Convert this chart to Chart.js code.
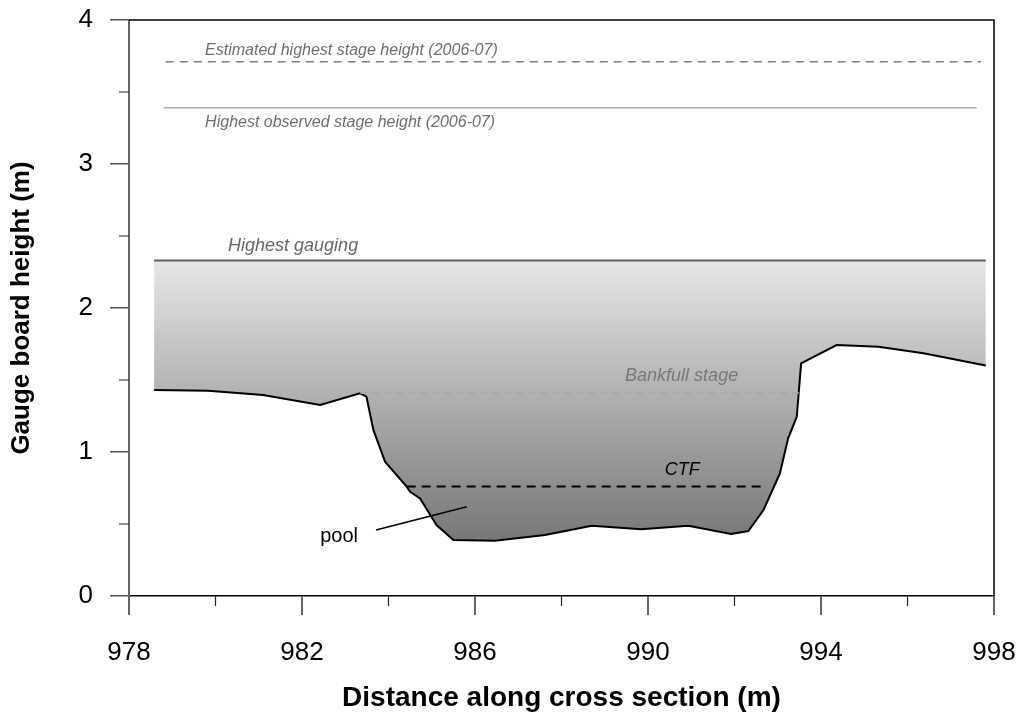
<!DOCTYPE html>
<html>
<head>
<meta charset="utf-8">
<script src="https://cdn.jsdelivr.net/npm/chart.js@4"></script>
<style>
  body { margin: 0; background: #fff; }
  #wrap { width: 1019px; height: 715px; }
</style>
</head>
<body>
<div id="wrap"><canvas id="chart"></canvas></div>
<script>
// cross-section profile (distance m, gauge height m)
const groundX = [978.58, 979.83, 981.1, 982.42, 983.34, 983.49, 983.65, 983.92, 984.42, 984.5, 984.73, 985.11, 985.5, 986.46, 987.62, 988.7, 989.84, 990.93, 991.92, 992.32, 992.67, 993.05, 993.24, 993.44, 993.54, 994.36, 995.33, 996.37, 997.81];
const groundY = [1.43, 1.426, 1.396, 1.326, 1.408, 1.384, 1.153, 0.933, 0.759, 0.724, 0.678, 0.493, 0.389, 0.384, 0.424, 0.488, 0.463, 0.488, 0.431, 0.451, 0.597, 0.852, 1.095, 1.245, 1.616, 1.743, 1.731, 1.685, 1.60];

// reference levels
const estimatedHighest = 3.71;
const estimatedX = [978.85, 997.7];
const observedHighest = 3.39;
const observedX = [978.8, 997.6];
const highestGauging = 2.33;
const gaugingX = [978.58, 997.81];
const bankfull = 1.41;
const bankfullX = [983.34, 993.5];
const ctf = 0.76;
const ctfX = [984.42, 992.64];
const poolPointerX = [983.71, 985.81];
const poolPointerY = [0.458, 0.62];

const xTicks = [978, 982, 986, 990, 994, 998];
const xMinor = [980, 984, 988, 992, 996];
const yMinor = [0.5, 1.5, 2.5, 3.5];

const FONT = "'Liberation Sans', Arial, sans-serif";

const pts = (xs, ys) => xs.map((x, i) => ({ x: x, y: Array.isArray(ys) ? ys[i] : ys }));

// text labels in data units
const notes = [
  { text: 'Estimated highest stage height (2006-07)', x: 979.76, y: 3.785, size: 16, color: '#6e6e6e', italic: true, align: 'left' },
  { text: 'Highest observed stage height (2006-07)', x: 979.76, y: 3.285, size: 16, color: '#6e6e6e', italic: true, align: 'left' },
  { text: 'Highest gauging', x: 980.29, y: 2.43, size: 18, color: '#666', italic: true, align: 'left' },
  { text: 'Bankfull stage', x: 989.47, y: 1.53, size: 18, color: '#777', italic: true, align: 'left' },
  { text: 'CTF', x: 990.79, y: 0.875, size: 18, color: '#000', italic: true, align: 'center' },
  { text: 'pool', x: 982.42, y: 0.41, size: 20, color: '#000', italic: false, align: 'left' }
];

const noPad = (s) => { s.paddingTop = 0; s.paddingBottom = 0; s.paddingLeft = 0; s.paddingRight = 0; };

const extras = {
  id: 'extras',
  afterDraw(chart) {
    const { ctx, chartArea: a, scales } = chart;
    const xs = scales.x, ys = scales.y;
    ctx.save();
    // top and right frame
    ctx.strokeStyle = '#000';
    ctx.lineWidth = 1.5;
    ctx.beginPath();
    ctx.moveTo(a.left, a.top);
    ctx.lineTo(a.right, a.top);
    ctx.lineTo(a.right, a.bottom);
    ctx.stroke();
    // minor ticks
    ctx.lineWidth = 1.2;
    ctx.beginPath();
    xMinor.forEach(v => {
      const px = xs.getPixelForValue(v);
      ctx.moveTo(px, a.bottom);
      ctx.lineTo(px, a.bottom + 10);
    });
    yMinor.forEach(v => {
      const py = ys.getPixelForValue(v);
      ctx.moveTo(a.left, py);
      ctx.lineTo(a.left - 10, py);
    });
    ctx.strokeStyle = '#222';
    ctx.stroke();
    // notes
    ctx.textBaseline = 'middle';
    notes.forEach(n => {
      ctx.font = (n.italic ? 'italic ' : '') + n.size + 'px ' + FONT;
      ctx.fillStyle = n.color;
      ctx.textAlign = n.align;
      ctx.fillText(n.text, xs.getPixelForValue(n.x), ys.getPixelForValue(n.y));
    });
    ctx.restore();
  }
};

new Chart(document.getElementById('chart'), {
  type: 'line',
  data: {
    datasets: [
      { label: 'Estimated highest stage', data: pts(estimatedX, estimatedHighest), borderColor: '#7f7f7f', borderWidth: 1.5, borderDash: [8, 6], order: 1 },
      { label: 'Highest observed stage', data: pts(observedX, observedHighest), borderColor: '#ababab', borderWidth: 1.5, order: 1 },
      { label: 'Highest gauging', data: pts(gaugingX, highestGauging), borderColor: '#5e5e5e', borderWidth: 2, order: 1 },
      { label: 'Bankfull stage', data: pts(bankfullX, bankfull), borderColor: '#a8a8a8', borderWidth: 1.5, borderDash: [7, 5], order: 1 },
      { label: 'CTF', data: pts(ctfX, ctf), borderColor: '#000', borderWidth: 2, borderDash: [9, 6], order: 1 },
      { label: 'pool pointer', data: pts(poolPointerX, poolPointerY), borderColor: '#000', borderWidth: 1.5, order: 1 },
      {
        label: 'Cross section',
        data: pts(groundX, groundY),
        borderColor: '#000',
        borderWidth: 2,
        fill: { value: highestGauging },
        backgroundColor: (c) => {
          const ch = c.chart;
          if (!ch.chartArea) return '#bbb';
          const y = ch.scales.y;
          const g = ch.ctx.createLinearGradient(0, y.getPixelForValue(highestGauging), 0, y.getPixelForValue(0.38));
          g.addColorStop(0, '#e6e6e6');
          g.addColorStop(1, '#777777');
          return g;
        },
        order: 10
      }
    ]
  },
  options: {
    responsive: true,
    maintainAspectRatio: false,
    animation: false,
    devicePixelRatio: 1,
    layout: { padding: { left: 0, top: 20, right: 25, bottom: 0 } },
    elements: { point: { radius: 0 }, line: { tension: 0 } },
    plugins: { legend: { display: false }, tooltip: { enabled: false } },
    scales: {
      x: {
        type: 'linear',
        min: 978,
        max: 998,
        afterBuildTicks: (s) => { s.ticks = xTicks.map(v => ({ value: v })); },
        afterFit: (s) => { s.height = 119; noPad(s); },
        ticks: { font: { family: FONT, size: 26 }, color: '#000', padding: 22 },
        grid: { drawOnChartArea: false, tickLength: 19, color: '#666', lineWidth: 2 },
        border: { color: '#000', width: 1.5 },
        title: {
          display: true,
          text: 'Distance along cross section (m)',
          font: { family: FONT, size: 28, weight: 'bold' },
          color: '#000',
          padding: { top: 0, bottom: 0 }
        }
      },
      y: {
        min: 0,
        max: 4,
        ticks: { stepSize: 1, font: { family: FONT, size: 26 }, color: '#000', padding: 17 },
        afterFit: (s) => { s.width = 129; noPad(s); },
        grid: { drawOnChartArea: false, tickLength: 19, color: '#555', lineWidth: 1.5 },
        border: { color: '#666', width: 2 },
        title: {
          display: true,
          text: 'Gauge board height (m)',
          font: { family: FONT, size: 26, weight: 'bold' },
          color: '#000',
          padding: { top: 6, bottom: 0 }
        }
      }
    }
  },
  plugins: [extras]
});
</script>
</body>
</html>
